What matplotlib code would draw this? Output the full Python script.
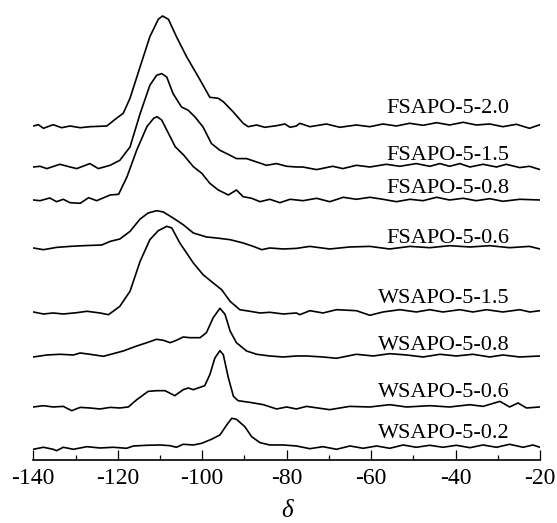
import matplotlib
matplotlib.use("Agg")
import matplotlib.pyplot as plt
from matplotlib.ticker import MultipleLocator

plt.rcParams["font.family"] = ["Liberation Serif", "DejaVu Serif"]
plt.rcParams["axes.unicode_minus"] = False

# 29Si NMR spectra: shift (delta) and intensity above each trace's own baseline
fs20_x = [-140.0, -138.8, -137.6, -135.3, -133.3, -131.3, -128.9, -126.6, -122.6, -120.3, -118.7, -117.1,
          -114.7, -112.4, -110.4, -109.4, -108.0, -106.1, -103.7, -102.1, -100.5, -98.2, -96.2, -95.0,
          -92.7, -90.3, -89.1, -87.1, -85.2, -82.4, -80.4, -79.2, -77.7, -76.9, -74.5, -70.6, -67.4,
          -63.5, -60.3, -57.2, -54.0, -50.9, -47.7, -44.5, -41.4, -38.2, -35.1, -31.9, -28.8, -25.6,
          -22.5, -20.0]
fs20_i = [0, 1.3, -2.3, 1.3, -1.7, 0, -1.7, -0.7, 0, 7.7, 12.7, 27.7,
          59.3, 89.3, 106.7, 110, 106.7, 89.3, 69.3, 57.7, 46, 28.7, 27.7, 24.3,
          14.3, 2.7, -0.7, 1, -1.3, 0.3, 2, -1.3, 0, 2.7, -0.7, 2, -1.3,
          1, -0.7, 2, 0, 2.7, 0.7, 3.3, 1, 3.7, 1, 2, -0.7, 1.7,
          -2.3, 1.3]

fs15_x = [-140.0, -138.4, -136.8, -133.7, -131.3, -129.7, -126.6, -124.6, -121.8, -119.5, -117.1, -114.7,
          -112.4, -110.8, -109.6, -108.4, -106.9, -104.9, -103.3, -101.7, -99.8, -97.8, -95.8, -93.4,
          -91.9, -89.5, -87.1, -84.8, -82.4, -80.0, -77.7, -76.2, -72.9, -69.1, -66.7, -63.5, -60.3,
          -56.4, -53.2, -49.3, -46.1, -43.7, -41.4, -39.0, -36.6, -33.5, -30.3, -28.0, -24.8, -22.5,
          -20.0]
fs15_i = [0, 0.7, -1.6, 2.7, 0, -1.6, 3.4, -1.6, 1.7, 6.7, 20, 53.4,
          81.7, 91.7, 93.4, 90, 73.4, 60, 56.7, 50, 40, 23.4, 16.7, 11.7,
          8.4, 8.4, 5, 1.7, 3.4, 0.7, 0, 0, -2.6, 0.7, -1.6, 1.7, 0,
          2.7, 0.7, 3.4, 0.7, 3.4, 0.7, 3.4, 0, 2.7, 0, 2.7, -0.6, 0.7,
          -2.6]

fs08_x = [-140.0, -138.4, -136.1, -134.5, -132.9, -131.3, -128.9, -126.9, -125.0, -121.8, -119.8, -117.8,
          -115.5, -113.1, -111.5, -110.7, -109.6, -108.0, -106.4, -104.4, -102.1, -100.1, -98.2, -96.2,
          -93.8, -91.9, -90.3, -88.3, -86.3, -84.0, -81.6, -79.2, -76.1, -72.9, -69.8, -66.6, -63.5,
          -60.3, -57.2, -54.0, -50.8, -47.7, -44.5, -41.4, -38.2, -35.1, -31.9, -28.8, -24.8, -20.0]
fs08_i = [0, -0.7, 2, -1.7, 0.7, -2.7, -3.3, 2.3, -0.7, 5, 5.7, 23.3,
          50, 73.3, 81.7, 83.3, 80, 66.7, 53.3, 45, 33.3, 26.7, 16.7, 10,
          5, 10, 3.3, 1.7, -1.7, 0.7, -2.7, 0.7, -0.7, 1.7, -1.7, 2.7, 0.7,
          2.7, 0.7, -1.7, 0.7, -0.7, 2.7, 0, 1.7, -0.7, 1.3, -1.3, 0.7, 0]

fs06_x = [-140.0, -137.6, -134.5, -131.3, -128.2, -123.8, -121.8, -119.5, -117.1, -114.7, -112.8, -110.8,
          -109.2, -106.9, -104.5, -102.1, -99.0, -96.6, -93.4, -90.3, -87.9, -85.9, -84.0, -80.8,
          -77.7, -74.5, -69.8, -65.1, -60.3, -55.6, -50.8, -46.1, -41.4, -36.6, -31.9, -27.2, -22.5,
          -20.0]
fs06_i = [0, -1.7, 0.6, 1.6, 2.3, 3, 6.6, 9, 16.6, 29, 35, 37.3,
          36, 30, 23.3, 15, 11, 10, 8.3, 5, 1.6, -1.7, 0, -1,
          -0.4, 1.6, -1, 1, 1.6, -1, 1.6, 0.3, 2.3, 1, 2.3, 0.3, 1.6,
          -1]

ws15_x = [-140.0, -137.6, -135.3, -132.9, -129.7, -127.3, -124.2, -122.2, -119.5, -117.1, -114.7, -112.4,
          -110.4, -108.4, -107.2, -105.3, -102.1, -99.8, -97.4, -95.4, -93.4, -91.1, -88.7, -86.3,
          -84.0, -80.8, -77.7, -76.9, -74.5, -71.4, -68.2, -63.5, -60.3, -57.2, -53.2, -49.3, -46.1,
          -43.0, -39.0, -35.9, -32.7, -28.8, -24.8, -22.4, -20.0]
ws15_i = [1, -1, 0, -1, 0.3, 1.7, 0, -1.7, 6.7, 21.7, 51.7, 73.3,
          82.3, 86.7, 85, 70, 50, 38.3, 30, 23.3, 11.7, 3.3, 1.7, 0,
          0.7, -1, 0, -1.7, 2.3, 0, 3.3, 2.3, -2.3, 1, 3.3, 1, 3.3,
          1, 3.3, 1, 3.3, 1, 3.3, 1, 2.3]

ws08_x = [-140.0, -136.8, -133.7, -130.5, -128.9, -126.6, -123.4, -121.1, -118.7, -115.5, -113.1, -110.8,
          -109.2, -107.6, -106.1, -104.5, -102.9, -100.5, -99.0, -97.4, -95.8, -94.6, -93.4, -91.9,
          -89.5, -87.1, -84.0, -80.8, -77.7, -75.3, -71.4, -68.2, -63.5, -59.5, -55.6, -51.6, -47.7,
          -43.7, -39.8, -35.9, -31.9, -28.8, -24.8, -20.0]
ws08_i = [-1, 1, 1.7, 1, 3, 1.7, -0.3, 2.3, 5, 10, 13.3, 16.7,
          15.7, 13.3, 15.7, 19, 18.3, 18.3, 23.3, 38.3, 47.7, 41.7, 25, 13.3,
          5, 1.7, 0, -1, 0, 0, -1, -2.3, 1.7, 0, 2.3, 1, -1,
          1.7, 0, 1.7, -1, 1, -1, 0]

ws06_x = [-140.0, -137.6, -135.3, -132.9, -130.9, -128.9, -126.6, -124.2, -121.8, -119.5, -117.5, -115.5,
          -112.8, -110.8, -108.8, -106.5, -104.5, -103.3, -102.1, -99.4, -98.2, -97.0, -95.8, -95.0,
          -93.8, -92.6, -91.5, -88.7, -85.5, -82.4, -80.0, -77.7, -75.3, -69.8, -65.1, -60.3, -55.6,
          -51.6, -46.1, -41.4, -36.6, -33.5, -29.5, -27.2, -25.2, -23.2, -20.0]
ws06_i = [0, 1.3, 0, 0.6, -3.7, -0.4, -1, -2, -0.4, -1, 0, 7.3,
          15.6, 16.3, 16.3, 11.3, 17.3, 19, 17.3, 21.3, 32.3, 49, 56.3, 52.3,
          29, 10.6, 6.3, 4.6, 2.3, -2, 0, -2, 0.6, -2.7, 0.6, 0, 2.3,
          0, 1.3, 0, 2.3, 0.6, 5.6, 0, 4, -1, 0]

ws02_x = [-140.0, -137.6, -135.3, -134.5, -132.9, -130.5, -127.3, -124.2, -121.1, -117.9, -116.3, -113.1,
          -110.0, -107.6, -106.1, -104.5, -102.1, -100.1, -97.8, -95.8, -94.2, -93.0, -91.9, -89.9,
          -88.3, -86.3, -84.0, -80.8, -77.7, -74.5, -71.4, -68.2, -65.0, -61.9, -58.7, -55.6, -52.4,
          -49.3, -46.1, -43.0, -39.8, -36.6, -33.5, -30.3, -27.2, -24.0, -21.7, -20.0]
ws02_i = [-0.3, 1.7, -0.3, -1.7, 1.7, -0.3, 2.3, 1, 1.7, 0.7, 3, 3.7,
          4, 3.3, 1.7, 4.7, 4, 5.7, 9.7, 14, 24, 30.7, 29.7, 22.3,
          12.3, 6.3, 4, 4, 3, 0.3, 2.3, -0.3, 3, 0.7, 3, 0.7, 4,
          1.7, 3.7, 1.7, 3.7, 1.3, 4, 1.7, 4.7, 1.7, 4, 1.7]

names = ["FSAPO-5-2.0", "FSAPO-5-1.5", "FSAPO-5-0.8", "FSAPO-5-0.6",
         "WSAPO-5-1.5", "WSAPO-5-0.8", "WSAPO-5-0.6", "WSAPO-5-0.2"]
xs = [fs20_x, fs15_x, fs08_x, fs06_x, ws15_x, ws08_x, ws06_x, ws02_x]
ys = [fs20_i, fs15_i, fs08_i, fs06_i, ws15_i, ws08_i, ws06_i, ws02_i]

# stacking: baseline of each trace and height of its label (same vertical units)
offsets = [334, 293, 260, 212, 147, 104, 53, 11]
label_y = [347.3, 300, 266.7, 216.7, 156.7, 110, 63.3, 21.7]

fig = plt.figure(figsize=(5.57, 5.23), dpi=100)
ax = fig.add_axes([0.0598, 0.1205, 0.9097, 0.8795])

for name, x, y, off, ly in zip(names, xs, ys, offsets, label_y):
    ax.plot(x, [v + off for v in y], color="black", lw=1.2,
            solid_joinstyle="round", solid_capstyle="round")
    ax.text(-27.2, ly, name, fontsize=16, ha="right", va="baseline")

ax.set_xlim(-140, -20)
ax.set_ylim(0, 460)

for s in ["top", "left", "right"]:
    ax.spines[s].set_visible(False)
ax.spines["bottom"].set_linewidth(1.2)
ax.set_yticks([])

ax.xaxis.set_major_locator(MultipleLocator(20))
ax.xaxis.set_minor_locator(MultipleLocator(10))
ax.tick_params(axis="x", which="major", direction="in", length=7.2, width=0.9, labelsize=17, pad=6)
ax.tick_params(axis="x", which="minor", direction="in", length=3.6, width=0.9)

ax.set_xlabel("δ", fontsize=18, fontstyle="italic", labelpad=8)

fig.savefig("out.png", dpi=100)
